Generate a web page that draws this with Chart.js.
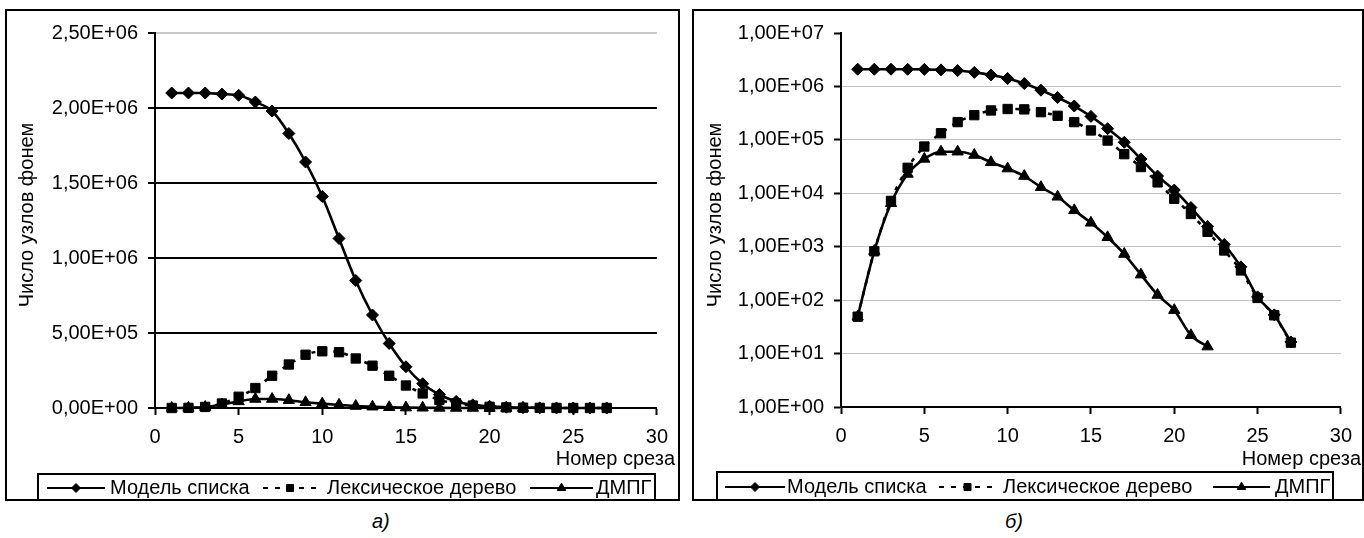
<!DOCTYPE html>
<html>
<head>
<meta charset="utf-8">
<script src="https://cdn.jsdelivr.net/npm/chart.js@4.4.1/dist/chart.umd.min.js"></script>
<style>
  body { margin: 0; background: #fff; width: 1364px; height: 538px; overflow: hidden; position: relative; }
  .panel { position: absolute; border: 2px solid #000; box-sizing: border-box; background: #fff; }
  canvas { display: block; }
  .cap { position: absolute; font: italic 20px Arial, "Liberation Sans", sans-serif; color: #000; }
</style>
</head>
<body>
<div class="panel" style="left:5px;top:9px;width:675px;height:492px"><canvas id="chartA" width="671" height="488"></canvas></div>
<div class="panel" style="left:692px;top:9px;width:672px;height:492px"><canvas id="chartB" width="668" height="488"></canvas></div>
<div class="cap" style="left:372px;top:510px">а)</div>
<div class="cap" style="left:1005px;top:510px">б)</div>
<script>
// номер среза
const slices = [1, 2, 3, 4, 5, 6, 7, 8, 9, 10, 11, 12, 13, 14, 15, 16, 17, 18, 19, 20, 21, 22, 23, 24, 25, 26, 27];
// число узлов фонем по сериям
const listModel = [2.1e6, 2.1e6, 2.1e6, 2.093e6, 2.085e6, 2.04e6, 1.98e6, 1.83e6, 1.64e6, 1.41e6, 1.13e6, 8.5e5, 6.2e5, 4.3e5, 2.75e5, 1.62e5, 9e4, 4.4e4, 2.1e4, 1.15e4, 5.4e3, 2.4e3, 1.1e3, 4.2e2, 1.15e2, 53, 16.5];
const lexTree = [49, 820, 7.2e3, 3e4, 7.5e4, 1.33e5, 2.15e5, 2.9e5, 3.55e5, 3.78e5, 3.72e5, 3.3e5, 2.82e5, 2.15e5, 1.5e5, 9.7e4, 5.4e4, 3.1e4, 1.6e4, 7.9e3, 4.1e3, 1.9e3, 8.5e2, 3.6e2, 1.1e2, 52, 16];
const dmpg = [49, 830, 6.5e3, 2.3e4, 4.4e4, 6e4, 6e4, 5.2e4, 3.8e4, 2.9e4, 2.1e4, 1.3e4, 8.6e3, 4.8e3, 2.8e3, 1.5e3, 7.3e2, 3e2, 1.25e2, 65, 22, 13.5];
const seriesNames = ['Модель списка', 'Лексическое дерево', 'ДМПГ'];
// подписи осей
const xTicks = [0, 5, 10, 15, 20, 25, 30];
const yTicksLinear = [0, 5e5, 1e6, 1.5e6, 2e6, 2.5e6];
const yTicksLog = [1, 10, 100, 1e3, 1e4, 1e5, 1e6, 1e7];
const xTitle = 'Номер среза';
const yTitle = 'Число узлов фонем';

const FONT = '20px Arial, "Liberation Sans", sans-serif';
const fontCfg = { family: 'Arial, "Liberation Sans", sans-serif', size: 20 };

// формат чисел как в Excel: 2,50E+06
function sci(v) {
    if (v === 0) return '0,00E+00';
    let e = Math.floor(Math.log10(v) + 1e-9);
    let m = v / Math.pow(10, e);
    return m.toFixed(2).replace('.', ',') + 'E' + (e < 0 ? '-' : '+') + String(Math.abs(e)).padStart(2, '0');
}

function points(vals) {
    return vals.map((v, i) => ({ x: slices[i], y: v }));
}

function makeDatasets() {
    const base = { borderColor: '#000', backgroundColor: '#000', pointBorderColor: '#000', pointBackgroundColor: '#000',
        borderWidth: 2.6, cubicInterpolationMode: 'monotone', clip: false, pointBorderWidth: 1 };
    return [
        Object.assign({}, base, { label: seriesNames[0], data: points(listModel), pointStyle: 'rectRot', pointRadius: 6 }),
        Object.assign({}, base, { label: seriesNames[1], data: points(lexTree), pointStyle: 'rect', pointRadius: 6.6, borderDash: [4, 7] }),
        Object.assign({}, base, { label: seriesNames[2], data: points(dmpg), pointStyle: 'triangle', pointRadius: 6.5 })
    ];
}

// легенда в рамке и подписи осей
const boxLegend = {
    id: 'boxLegend',
    afterDraw(chart, args, opts) {
        const ctx = chart.ctx;
        ctx.save();
        ctx.strokeStyle = '#000';
        ctx.lineWidth = 2;
        ctx.strokeRect(opts.x, opts.y, opts.w, opts.h);
        ctx.font = FONT;
        ctx.fillStyle = '#000';
        ctx.textBaseline = 'middle';
        const cy = opts.y + opts.h / 2 + 1;
        chart.data.datasets.forEach((ds, i) => {
            const it = opts.items[i];
            ctx.beginPath();
            ctx.setLineDash(ds.borderDash ? [5, 7] : []);
            ctx.lineDashOffset = ds.borderDash ? -1 : 0;
            ctx.lineWidth = 2.2;
            ctx.moveTo(it[0], cy);
            ctx.lineTo(it[1], cy);
            ctx.stroke();
            ctx.setLineDash([]);
            ctx.lineWidth = 1;
            Chart.helpers.drawPoint(ctx, { pointStyle: ds.pointStyle, radius: ds.pointRadius * 0.75, rotation: 0, borderWidth: 1 }, (it[0] + it[1]) / 2, cy);
            ctx.textAlign = 'left';
            ctx.fillText(ds.label, it[2], cy);
        });
        // подпись оси X
        ctx.textAlign = 'right';
        ctx.fillText(xTitle, opts.xt[0], opts.xt[1]);
        // подпись оси Y
        ctx.translate(opts.yt[0], opts.yt[1]);
        ctx.rotate(-Math.PI / 2);
        ctx.textAlign = 'center';
        ctx.fillText(yTitle, 0, 0);
        ctx.restore();
    }
};

function makeChart(id, yCfg, yWidth, xHeight, legendOpts) {
    const ctx = document.getElementById(id).getContext('2d');
    return new Chart(ctx, {
        type: 'line',
        data: { datasets: makeDatasets() },
        options: {
            responsive: false,
            animation: false,
            devicePixelRatio: 1,
            layout: { padding: { left: 0, top: 16, right: 10, bottom: 0 } },
            scales: {
                x: {
                    type: 'linear', min: 0, max: 30,
                    afterBuildTicks: s => { s.ticks = xTicks.map(v => ({ value: v })); },
                    afterFit: s => { s.height = xHeight; },
                    grid: { drawOnChartArea: false, drawTicks: true, tickLength: 7, tickColor: '#000', tickWidth: 2 },
                    border: { display: true, color: '#000', width: 2 },
                    ticks: { color: '#000', font: fontCfg, padding: 10, maxRotation: 0 }
                },
                y: Object.assign({
                    afterFit: s => { s.width = yWidth; },
                    border: { display: true, color: '#000', width: 2 },
                    ticks: { color: '#000', font: fontCfg, padding: 10, callback: v => sci(v) }
                }, yCfg)
            },
            plugins: {
                legend: { display: false },
                tooltip: { enabled: false },
                boxLegend: legendOpts
            }
        },
        plugins: [boxLegend]
    });
}

// а) линейная шкала
makeChart('chartA', {
    type: 'linear', min: 0, max: 2.5e6,
    afterBuildTicks: s => { s.ticks = yTicksLinear.map(v => ({ value: v })); },
    grid: { color: c => (c.tick && c.tick.value === 2.5e6) ? '#c8c8c8' : '#000', lineWidth: 2, tickLength: 7, tickColor: '#000', tickWidth: 2 }
}, 148, 91, {
    x: 31, y: 463, w: 617, h: 26,
    items: [[40, 98, 103], [255, 311, 320], [523, 586, 589]],
    xt: [668, 448], yt: [20, 204]
});

// б) логарифмическая шкала
makeChart('chartB', {
    type: 'logarithmic', min: 1, max: 1e7,
    afterBuildTicks: s => { s.ticks = yTicksLog.map(v => ({ value: v })); },
    grid: { color: c => (c.tick && c.tick.value === 1e7) ? 'rgba(0,0,0,0)' : '#c0c0c0', lineWidth: 1, tickLength: 7, tickColor: '#000', tickWidth: 2 }
}, 147, 92, {
    x: 23, y: 461, w: 616, h: 28,
    items: [[31, 91, 93], [244, 303, 309], [519, 576, 581]],
    xt: [667, 448], yt: [21, 204]
});
</script>
</body>
</html>
